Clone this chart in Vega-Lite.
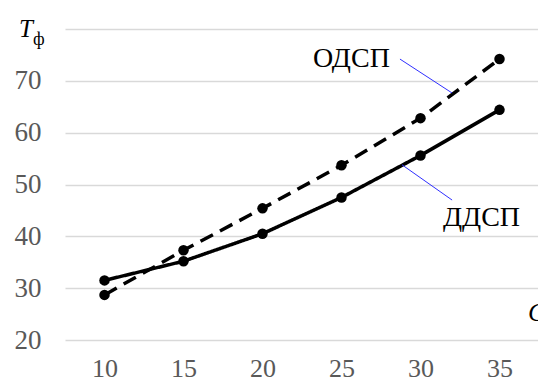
{
  "$schema": "https://vega.github.io/schema/vega-lite/v6.json",
  "width": 474,
  "height": 311,
  "autosize": {"type": "none"},
  "padding": {"left": 65, "top": 29, "right": 0, "bottom": 42},
  "background": "white",
  "config": {
    "view": {"stroke": null},
    "font": "Liberation Serif"
  },
  "datasets": {
    "series": [
      {"x": 10, "y": 28.7, "s": "ОДСП"},
      {"x": 15, "y": 37.3, "s": "ОДСП"},
      {"x": 20, "y": 45.4, "s": "ОДСП"},
      {"x": 25, "y": 53.7, "s": "ОДСП"},
      {"x": 30, "y": 62.8, "s": "ОДСП"},
      {"x": 35, "y": 74.2, "s": "ОДСП"},
      {"x": 10, "y": 31.5, "s": "ДДСП"},
      {"x": 15, "y": 35.2, "s": "ДДСП"},
      {"x": 20, "y": 40.5, "s": "ДДСП"},
      {"x": 25, "y": 47.5, "s": "ДДСП"},
      {"x": 30, "y": 55.6, "s": "ДДСП"},
      {"x": 35, "y": 64.4, "s": "ДДСП"}
    ],
    "leaders": [
      {"x": 28.7, "y": 74.2, "x2": 32.0, "y2": 67.65},
      {"x": 28.83, "y": 53.8, "x2": 32.0, "y2": 47.0}
    ],
    "labels": [
      {"x": 25.63, "y": 74.2, "t": "ОДСП"},
      {"x": 33.86, "y": 43.6, "t": "ДДСП"}
    ]
  },
  "layer": [
    {
      "data": {"name": "series"},
      "mark": {"type": "line", "color": "black", "strokeWidth": 3.5},
      "encoding": {
        "x": {
          "field": "x", "type": "quantitative",
          "scale": {"domain": [7.5, 37.5], "nice": false, "zero": false},
          "axis": {
            "values": [10, 15, 20, 25, 30, 35], "title": null, "grid": false,
            "domain": false, "ticks": false, "labelFont": "Liberation Serif",
            "labelFontSize": 26, "labelColor": "#595959", "labelPadding": 15
          }
        },
        "y": {
          "field": "y", "type": "quantitative",
          "scale": {"domain": [20, 80], "nice": false, "zero": false},
          "axis": {
            "values": [20, 30, 40, 50, 60, 70, 80], "title": null,
            "labelExpr": "datum.value == 80 ? '' : datum.label",
            "domain": false, "ticks": false, "gridColor": "#d9d9d9", "gridWidth": 1.5,
            "labelFont": "Liberation Serif", "labelFontSize": 27,
            "labelColor": "#595959", "labelPadding": 24
          }
        },
        "detail": {"field": "s"},
        "strokeDash": {
          "field": "s", "type": "nominal",
          "scale": {"domain": ["ОДСП", "ДДСП"], "range": [[14, 8], [1, 0]]},
          "legend": null
        }
      }
    },
    {
      "data": {"name": "series"},
      "mark": {"type": "point", "filled": true, "color": "black", "size": 110, "opacity": 1},
      "encoding": {
        "x": {"field": "x", "type": "quantitative"},
        "y": {"field": "y", "type": "quantitative"}
      }
    },
    {
      "data": {"name": "leaders"},
      "mark": {"type": "rule", "color": "#3030ff", "strokeWidth": 1},
      "encoding": {
        "x": {"field": "x", "type": "quantitative"},
        "y": {"field": "y", "type": "quantitative"},
        "x2": {"field": "x2"},
        "y2": {"field": "y2"}
      }
    },
    {
      "data": {"name": "labels"},
      "mark": {"type": "text", "font": "Liberation Serif", "fontSize": 28, "color": "black", "align": "center", "baseline": "middle"},
      "encoding": {
        "x": {"field": "x", "type": "quantitative"},
        "y": {"field": "y", "type": "quantitative"},
        "text": {"field": "t"}
      }
    },
    {
      "data": {"values": [{"x": 5.03, "y": 80, "t": "T"}]},
      "mark": {"type": "text", "font": "Liberation Serif", "fontSize": 25, "fontStyle": "italic", "color": "black", "align": "center", "baseline": "middle"},
      "encoding": {
        "x": {"field": "x", "type": "quantitative"},
        "y": {"field": "y", "type": "quantitative"},
        "text": {"field": "t"}
      }
    },
    {
      "data": {"values": [{"x": 5.85, "y": 77.9, "t": "ф"}]},
      "mark": {"type": "text", "font": "Liberation Serif", "fontSize": 18, "color": "black", "align": "center", "baseline": "middle"},
      "encoding": {
        "x": {"field": "x", "type": "quantitative"},
        "y": {"field": "y", "type": "quantitative"},
        "text": {"field": "t"}
      }
    },
    {
      "data": {"values": [{"x": 36.8, "y": 25.2, "t": "C"}]},
      "mark": {"type": "text", "font": "Liberation Serif", "fontSize": 26, "fontStyle": "italic", "color": "black", "align": "left", "baseline": "middle"},
      "encoding": {
        "x": {"field": "x", "type": "quantitative"},
        "y": {"field": "y", "type": "quantitative"},
        "text": {"field": "t"}
      }
    }
  ]
}
